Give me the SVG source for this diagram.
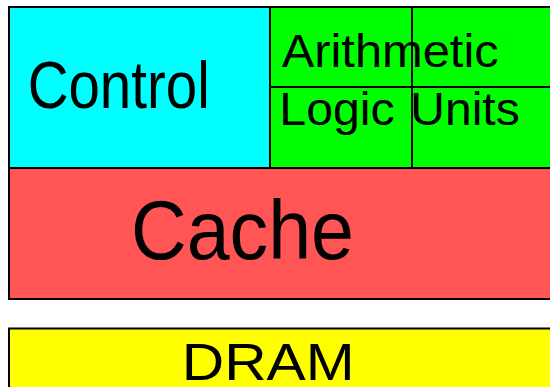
<svg xmlns="http://www.w3.org/2000/svg" width="550" height="387" viewBox="0 0 550 387">
<style>
rect{stroke:#000;stroke-width:2}
text{font-family:"Liberation Sans",Arial,sans-serif;fill:#000}
.ctl{fill:#00ffff}.alu{fill:#00ff00}.cache{fill:#ff5555}.dram{fill:#ffff00}
</style>
<rect width="550" height="387" fill="#fff" style="stroke:none"/>
<g id="control">
<rect class="ctl" x="9" y="7" width="261" height="161"/>
<text x="27.7" y="108" font-size="66" textLength="182" lengthAdjust="spacingAndGlyphs">Control</text>
</g>
<g id="alu">
<rect class="alu" x="270" y="7" width="142" height="80"/>
<rect class="alu" x="412" y="7" width="142" height="80"/>
<rect class="alu" x="270" y="87" width="142" height="81"/>
<rect class="alu" x="412" y="87" width="142" height="81"/>
<text x="281.7" y="66.7" font-size="46" textLength="217" lengthAdjust="spacingAndGlyphs">Arithmetic</text>
<text x="279.3" y="125" font-size="46" textLength="115.4" lengthAdjust="spacingAndGlyphs">Logic</text>
<text x="410.3" y="125" font-size="46" textLength="109.4" lengthAdjust="spacingAndGlyphs">Units</text>
</g>
<g id="cache">
<rect class="cache" x="9" y="168" width="545" height="131"/>
<text x="131" y="259" font-size="83" textLength="223" lengthAdjust="spacingAndGlyphs">Cache</text>
</g>
<g id="dram">
<rect class="dram" x="9" y="328.5" width="545" height="70"/>
<text x="181.8" y="380" font-size="52.6" textLength="172.8" lengthAdjust="spacingAndGlyphs">DRAM</text>
</g>
</svg>
